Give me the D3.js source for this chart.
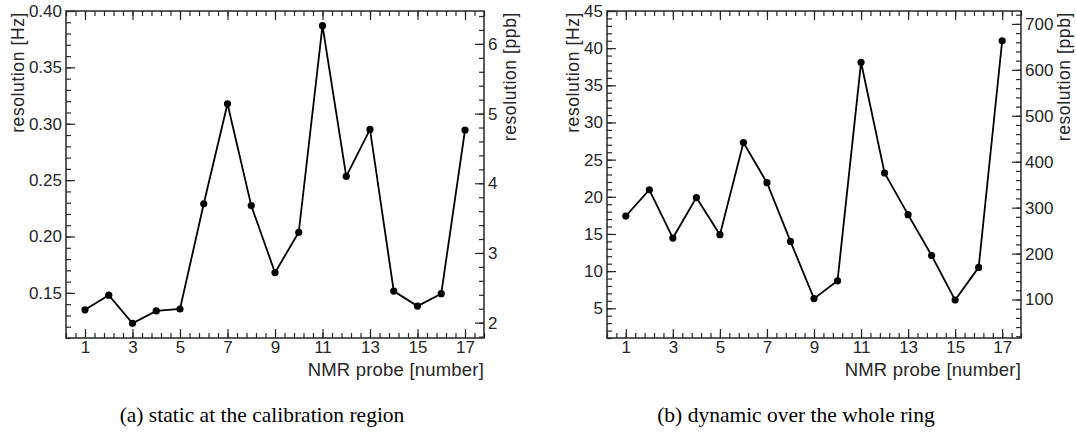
<!DOCTYPE html>
<html>
<head>
<meta charset="utf-8">
<script src="https://cdn.jsdelivr.net/npm/d3@7"></script>
<style>
  html, body { margin: 0; padding: 0; background: #fff; }
  svg { display: block; }
</style>
</head>
<body>
<svg id="chart" width="1076" height="448"></svg>
<script>
// ---- data ----
const probes = [1, 2, 3, 4, 5, 6, 7, 8, 9, 10, 11, 12, 13, 14, 15, 16, 17];
const staticHz = [0.135, 0.148, 0.123, 0.134, 0.1357, 0.229, 0.3177, 0.2274, 0.168, 0.2038, 0.387, 0.2534, 0.295, 0.1516, 0.1383, 0.1493, 0.2944];
const dynamicHz = [17.4, 20.95, 14.45, 19.9, 14.9, 27.3, 21.9, 14.0, 6.3, 8.7, 38.1, 23.2, 17.6, 12.1, 6.1, 10.5, 41.0];
const xMajorTicks = [1, 3, 5, 7, 9, 11, 13, 15, 17];
const staticHzTicks = [0.15, 0.20, 0.25, 0.30, 0.35, 0.40];
const staticPpbTicks = [2, 3, 4, 5, 6];
const dynamicHzTicks = [5, 10, 15, 20, 25, 30, 35, 40, 45];
const dynamicPpbTicks = [100, 200, 300, 400, 500, 600, 700];
const captions = ["(a) static at the calibration region", "(b) dynamic over the whole ring"];
const hzToPpb = 16.18; // 1 Hz at 61.79 MHz

const svg = d3.select("#chart");
const FONT = '"Liberation Sans", Arial, sans-serif';
const INK = "#262626";
const TICKFS = 17;

function range(a, b, s) {
  const out = [];
  for (let v = a; v <= b + s * 1e-6; v += s) out.push(+v.toFixed(6));
  return out;
}

function styleAxis(sel) {
  sel.attr("font-size", TICKFS).attr("font-family", FONT);
  sel.select(".domain").remove();
  sel.selectAll(".tick line").attr("stroke", INK).attr("stroke-width", 1.2);
  sel.selectAll(".tick text").attr("fill", INK)
    .style("font-size", TICKFS + "px").style("font-family", FONT);
}

function panel(cfg) {
  const g = svg.append("g");
  const x = d3.scaleLinear().domain([0.2, 17.8]).range([cfg.left, cfg.right]);
  const y = d3.scaleLinear().domain(cfg.yDomain).range([cfg.bottom, cfg.top]);
  const y2 = d3.scaleLinear().domain(cfg.yDomain.map(v => v * hzToPpb)).range([cfg.bottom, cfg.top]);

  const xMinor = range(0.2, 17.8, 0.4);
  const H = cfg.bottom - cfg.top, W = cfg.right - cfg.left;

  // bottom axis
  g.append("g").attr("transform", `translate(0,${cfg.bottom})`)
    .call(d3.axisBottom(x).tickValues(xMinor).tickSize(-5).tickFormat(""))
    .call(styleAxis);
  g.append("g").attr("transform", `translate(0,${cfg.bottom})`)
    .call(d3.axisBottom(x).tickValues(xMajorTicks).tickSize(-9).tickPadding(3).tickFormat(d3.format("d")))
    .call(styleAxis);
  // top axis
  g.append("g").attr("transform", `translate(0,${cfg.top})`)
    .call(d3.axisTop(x).tickValues(xMinor).tickSize(-5).tickFormat(""))
    .call(styleAxis);
  g.append("g").attr("transform", `translate(0,${cfg.top})`)
    .call(d3.axisTop(x).tickValues(xMajorTicks).tickSize(-9).tickFormat(""))
    .call(styleAxis);
  // left axis (Hz)
  g.append("g").attr("transform", `translate(${cfg.left},0)`)
    .call(d3.axisLeft(y).tickValues(cfg.yMinor).tickSize(-5).tickFormat(""))
    .call(styleAxis);
  g.append("g").attr("transform", `translate(${cfg.left},0)`)
    .call(d3.axisLeft(y).tickValues(cfg.yMajor).tickSize(-9).tickPadding(4).tickFormat(cfg.yFmt))
    .call(styleAxis);
  // right axis (ppb)
  g.append("g").attr("transform", `translate(${cfg.right},0)`)
    .call(d3.axisRight(y2).tickValues(cfg.y2Minor).tickSize(-5).tickFormat(""))
    .call(styleAxis);
  g.append("g").attr("transform", `translate(${cfg.right},0)`)
    .call(d3.axisRight(y2).tickValues(cfg.y2Major).tickSize(-9).tickPadding(4).tickFormat(d3.format("d")))
    .call(styleAxis);

  // frame
  g.append("rect").attr("x", cfg.left).attr("y", cfg.top).attr("width", W).attr("height", H)
    .attr("fill", "none").attr("stroke", INK).attr("stroke-width", 1.5);

  // line + markers
  const pts = probes.map((p, i) => [p, cfg.values[i]]);
  g.append("path").datum(pts)
    .attr("d", d3.line().x(d => x(d[0])).y(d => y(d[1])))
    .attr("fill", "none").attr("stroke", "#000").attr("stroke-width", 1.8).attr("stroke-linejoin", "miter");
  g.selectAll("circle.m").data(pts).enter().append("circle")
    .attr("cx", d => x(d[0])).attr("cy", d => y(d[1])).attr("r", 3.6).attr("fill", "#000");

  // titles
  g.append("text").attr("x", cfg.right).attr("y", 376).attr("text-anchor", "end")
    .attr("font-family", FONT).attr("font-size", 18.5).attr("fill", INK).attr("letter-spacing", 0.2)
    .text("NMR probe [number]");
  g.append("text").attr("transform", `translate(${cfg.yTitleX},${cfg.top + 1}) rotate(-90)`)
    .attr("text-anchor", "end").attr("font-family", FONT).attr("font-size", 17.5).attr("fill", INK)
    .attr("letter-spacing", 0.6).text("resolution [Hz]");
  g.append("text").attr("transform", `translate(${cfg.y2TitleX},${cfg.top + 1}) rotate(-90)`)
    .attr("text-anchor", "end").attr("font-family", FONT).attr("font-size", 17.5).attr("fill", INK)
    .attr("letter-spacing", 0.6).text("resolution [ppb]");

  // caption
  svg.append("text").attr("x", cfg.capX).attr("y", 422).attr("text-anchor", "middle")
    .attr("font-family", '"Liberation Serif", "Times New Roman", serif').attr("font-size", 21.5)
    .attr("fill", "#000").text(cfg.caption);
}

panel({
  left: 66, right: 484, top: 11, bottom: 338,
  yDomain: [0.11, 0.40], values: staticHz,
  yMajor: staticHzTicks, yMinor: range(0.11, 0.40, 0.01), yFmt: d3.format(".2f"),
  y2Major: staticPpbTicks, y2Minor: range(1.8, 6.4, 0.2),
  yTitleX: 23.5, y2TitleX: 516, capX: 262, caption: captions[0]
});
panel({
  left: 607, right: 1021, top: 11, bottom: 338,
  yDomain: [1, 45], values: dynamicHz,
  yMajor: dynamicHzTicks, yMinor: range(1, 45, 1), yFmt: d3.format("d"),
  y2Major: dynamicPpbTicks, y2Minor: range(20, 720, 20),
  yTitleX: 579, y2TitleX: 1070, capX: 796, caption: captions[1]
});
</script>
</body>
</html>
